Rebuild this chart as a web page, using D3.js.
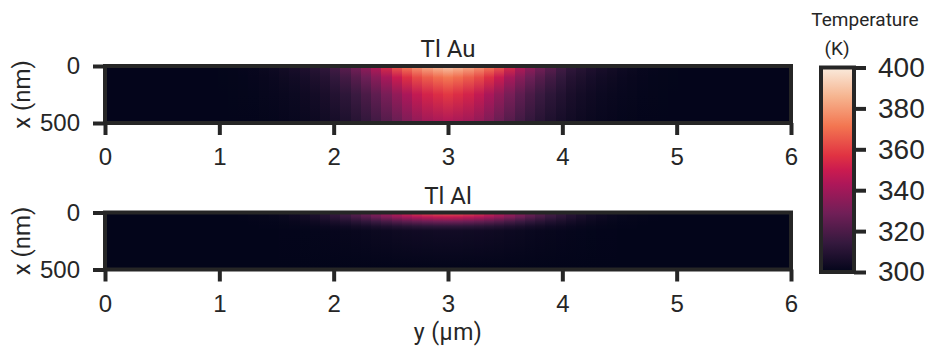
<!DOCTYPE html>
<html>
<head>
<meta charset="utf-8">
<script src="https://cdn.jsdelivr.net/npm/d3@7"></script>
<style>
  body { margin: 0; background: #fff; }
  svg { display: block; font-family: Roboto, sans-serif; }
</style>
</head>
<body>
<svg width="930" height="348"></svg>
<script>
// ---- data (temperatures in K, one value per y column) ----
var positionTicks = [0, 1, 2, 3, 4, 5, 6];      // y (um)
var depthTicks = [0, 500];                       // x (nm)
var tempTicks = [300, 320, 340, 360, 380, 400];  // colorbar

var auDepths = [0, 100, 250, 500];
var au0 = [300.2,300.2,300.2,300.2,300.2,300.2,300.2,300.2,300.2,300.2,
  300.35,300.5,300.7,301.0,301.5,302.5,303.5,304.8,306.3,308.2,
  310.5,313,318,324,330,337,345,355,366,373,
  379,384,388,391,388,384,379,373,366,355,
  345,337,330,324,318,313,310.5,308.2,306.3,304.8,
  303.5,302.5,301.5,301.0,300.7,300.5,300.35,300.2,300.2,300.2,
  300.2,300.2,300.2,300.2,300.2,300.2,300.2];
var au100 = [300.2,300.2,300.2,300.2,300.2,300.2,300.2,300.2,300.2,300.2,
  300.3,300.4,300.5,300.7,301.0,301.7,302.4,303.3,304.4,305.8,
  307.6,309.6,313.4,317.7,322.4,327.8,334.1,341.4,349.5,356,
  362,366,369.5,372,369.5,366,362,356,349.5,341.4,
  334.1,327.8,322.4,317.7,313.4,309.6,307.6,305.8,304.4,303.3,
  302.4,301.7,301.0,300.7,300.5,300.4,300.3,300.2,300.2,300.2,
  300.2,300.2,300.2,300.2,300.2,300.2,300.2];
var au250 = [300.2,300.2,300.2,300.2,300.2,300.2,300.2,300.2,300.2,300.2,
  300.25,300.3,300.4,300.5,300.7,301.1,301.5,302,302.7,303.6,
  304.8,306.5,309,312,315.5,319.5,324.5,330.5,336.5,342.5,
  348,352.5,355.5,358,355.5,352.5,348,342.5,336.5,330.5,
  324.5,319.5,315.5,312,309,306.5,304.8,303.6,302.7,302,
  301.5,301.1,300.7,300.5,300.4,300.3,300.25,300.2,300.2,300.2,
  300.2,300.2,300.2,300.2,300.2,300.2,300.2];
var au500 = [300.2,300.2,300.2,300.2,300.2,300.2,300.2,300.2,300.2,300.2,
  300.2,300.2,300.2,300.2,300.3,300.5,300.7,301,301.4,302,
  302.8,304,305.5,307.5,310,313,317,321.5,326.5,331.5,
  336,339.5,341.5,343,341.5,339.5,336,331.5,326.5,321.5,
  317,313,310,307.5,305.5,304,302.8,302,301.4,301,
  300.7,300.5,300.3,300.2,300.2,300.2,300.2,300.2,300.2,300.2,
  300.2,300.2,300.2,300.2,300.2,300.2,300.2];

var alDepths = [0, 40, 80, 120, 160, 500];
var al0 = [300.1,300.1,300.1,300.1,300.1,300.1,300.1,300.1,300.1,300.1,
  300.1,300.1,300.1,300.3,300.6,301,301.6,302.5,303.8,305.5,
  308,311,315,319,324,329,335,341,347,353,
  359,363,366,367,366,363,359,353,347,341,
  335,329,324,319,315,311,308,305.5,303.8,302.5,
  301.6,301,300.6,300.3,300.1,300.1,300.1,300.1,300.1,300.1,
  300.1,300.1,300.1,300.1,300.1,300.1,300.1];
var al40 = [300.1,300.1,300.1,300.1,300.1,300.1,300.1,300.1,300.1,300.1,
  300.1,300.1,300.1,300.2,300.5,300.8,301.2,302,303,304.3,
  306.2,308.6,311.7,314.8,318.7,322.6,327.3,332,336.7,340.6,
  343.7,346,347.6,348.4,347.6,346,343.7,340.6,336.7,332,
  327.3,322.6,318.7,314.8,311.7,308.6,306.2,304.3,303,302,
  301.2,300.8,300.5,300.2,300.1,300.1,300.1,300.1,300.1,300.1,
  300.1,300.1,300.1,300.1,300.1,300.1,300.1];
var al80 = [300,300,300,300,300,300,300,300,300,300,
  300,300,300,300.1,300.3,300.5,300.7,301.1,301.7,302.5,
  303.6,305,306.8,308.6,310.8,313,315.8,318.5,321.2,323.4,
  325.2,326.6,327.5,327.9,327.5,326.6,325.2,323.4,321.2,318.5,
  315.8,313,310.8,308.6,306.8,305,303.6,302.5,301.7,301.1,
  300.7,300.5,300.3,300.1,300,300,300,300,300,300,
  300,300,300,300,300,300,300];
var al120 = [300,300,300,300,300,300,300,300,300,300,
  300,300,300,300.1,300.1,300.2,300.3,300.5,300.8,301.1,
  301.6,302.2,303,303.8,304.8,305.8,307,308.2,309.4,310.4,
  311.2,311.8,312.2,312.4,312.2,311.8,311.2,310.4,309.4,308.2,
  307,305.8,304.8,303.8,303,302.2,301.6,301.1,300.8,300.5,
  300.3,300.2,300.1,300.1,300,300,300,300,300,300,
  300,300,300,300,300,300,300];
var al160 = [300,300,300,300,300,300,300,300,300,300,
  300,300,300,300,300,300.1,300.1,300.2,300.3,300.4,
  300.6,300.8,301,301.3,301.7,302,302.5,302.9,303.3,303.6,
  303.9,304.1,304.3,304.3,304.3,304.1,303.9,303.6,303.3,302.9,
  302.5,302,301.7,301.3,301,300.8,300.6,300.4,300.3,300.2,
  300.1,300.1,300,300,300,300,300,300,300,300,
  300,300,300,300,300,300,300];
var al500 = [300,300,300,300,300,300,300,300,300,300,
  300,300,300,300,300,300,300,300,300,300,
  300,300,300,300,300,300,300,300,300,300,
  300,300,300,300,300,300,300,300,300,300,
  300,300,300,300,300,300,300,300,300,300,
  300,300,300,300,300,300,300,300,300,300,
  300,300,300,300,300,300,300];

// seaborn "rocket" colormap anchors
var rocketStops = [0, 1/7, 2/7, 3/7, 0.5, 4/7, 5/7, 6/7, 1];
var rocketColors = ['#03051a','#35193e','#701f57','#ad1759','#cb1b4f','#e13342','#f37651','#f6b48f','#faebdd'];

var ink = '#262626';
var svg = d3.select('svg');
var defs = svg.append('defs');

var color = d3.scaleLinear()
  .domain(rocketStops.map(t => 300 + t * 100))
  .range(rocketColors)
  .interpolate(d3.interpolateRgb)
  .clamp(true);

var plotLeft = 105, plotRight = 791, plotH = 57;

var xScale = d3.scaleLinear().domain([0, 6]).range([plotLeft, plotRight]);

function styleAxis(sel, size) {
  sel.select('.domain').remove();
  sel.selectAll('.tick line').attr('stroke', ink).attr('stroke-width', 4);
  sel.selectAll('.tick text').attr('fill', ink).style('font-size', size + 'px');
}

var heatmap = (id, rows, depths, top, title) => {
  var band = d3.scaleBand().domain(d3.range(rows[0].length)).range([plotLeft, plotRight]).padding(0);
  var yScale = d3.scaleLinear().domain([0, 500]).range([top, top + plotH]);

  var cols = d3.range(rows[0].length).map(i => ({
    i: i,
    stops: depths.map((d, k) => ({ d: d, t: rows[k][i] }))
  }));

  defs.selectAll('linearGradient.' + id).data(cols).enter()
    .append('linearGradient')
    .attr('class', id)
    .attr('id', c => id + c.i)
    .attr('x1', 0).attr('y1', 0).attr('x2', 0).attr('y2', 1)
    .selectAll('stop').data(c => c.stops).enter()
    .append('stop')
    .attr('offset', s => (yScale(s.d) - top) / plotH)
    .attr('stop-color', s => color(s.t));

  var g = svg.append('g');
  g.selectAll('rect').data(cols).enter()
    .append('rect')
    .attr('x', c => band(c.i))
    .attr('y', yScale(0))
    .attr('width', band.bandwidth() + 0.6)
    .attr('height', yScale(500) - yScale(0))
    .attr('shape-rendering', 'crispEdges')
    .attr('fill', c => 'url(#' + id + c.i + ')');

  // frame
  g.append('rect')
    .attr('x', plotLeft).attr('y', top)
    .attr('width', plotRight - plotLeft).attr('height', plotH)
    .attr('fill', 'none').attr('stroke', ink).attr('stroke-width', 4);

  g.append('g')
    .attr('transform', 'translate(0,' + (top + plotH) + ')')
    .call(d3.axisBottom(xScale).tickValues(positionTicks).tickSize(12).tickPadding(13).tickFormat(d3.format('d')))
    .call(s => styleAxis(s, 24));

  g.append('g')
    .attr('transform', 'translate(' + plotLeft + ',0)')
    .call(d3.axisLeft(yScale).tickValues(depthTicks).tickSize(12).tickPadding(13))
    .call(s => styleAxis(s, 24));

  g.append('text')
    .attr('x', (plotLeft + plotRight) / 2).attr('y', top - 9)
    .attr('text-anchor', 'middle').attr('fill', ink)
    .style('font-size', '24px')
    .text(title);

  g.append('text')
    .attr('transform', 'translate(30,' + (top + plotH / 2) + ') rotate(-90)')
    .attr('text-anchor', 'middle').attr('fill', ink)
    .style('font-size', '24px')
    .text('x (nm)');
};

heatmap('au', [au0, au100, au250, au500], auDepths, 66, 'Tl Au');
heatmap('al', [al0, al40, al80, al120, al160, al500], alDepths, 212.5, 'Tl Al');

svg.append('text')
  .attr('x', (plotLeft + plotRight) / 2).attr('y', 340)
  .attr('text-anchor', 'middle').attr('fill', ink)
  .style('font-size', '23px')
  .style('letter-spacing', '0.5px')
  .text('y (\u03bcm)');

// colorbar
var cbLeft = 821, cbRight = 854;
var cScale = d3.scaleLinear().domain([300, 400]).range([272, 67.5]);

var cg = defs.append('linearGradient')
  .attr('id', 'cbar')
  .attr('x1', 0).attr('y1', 1).attr('x2', 0).attr('y2', 0);
cg.selectAll('stop').data(rocketStops).enter()
  .append('stop')
  .attr('offset', t => t)
  .attr('stop-color', t => color(300 + t * 100));

svg.append('rect')
  .attr('x', cbLeft).attr('y', cScale(400))
  .attr('width', cbRight - cbLeft).attr('height', cScale(300) - cScale(400))
  .attr('fill', 'url(#cbar)')
  .attr('stroke', ink).attr('stroke-width', 4);

svg.append('g')
  .attr('transform', 'translate(' + cbRight + ',0)')
  .call(d3.axisRight(cScale).tickValues(tempTicks).tickSize(12).tickPadding(12))
  .call(s => styleAxis(s, 28));

svg.append('text')
  .attr('x', 865).attr('y', 26)
  .attr('text-anchor', 'middle').attr('fill', ink)
  .style('font-size', '19px')
  .text('Temperature');
svg.append('text')
  .attr('x', 837).attr('y', 55)
  .attr('text-anchor', 'middle').attr('fill', ink)
  .style('font-size', '19px')
  .text('(K)');
</script>
</body>
</html>
